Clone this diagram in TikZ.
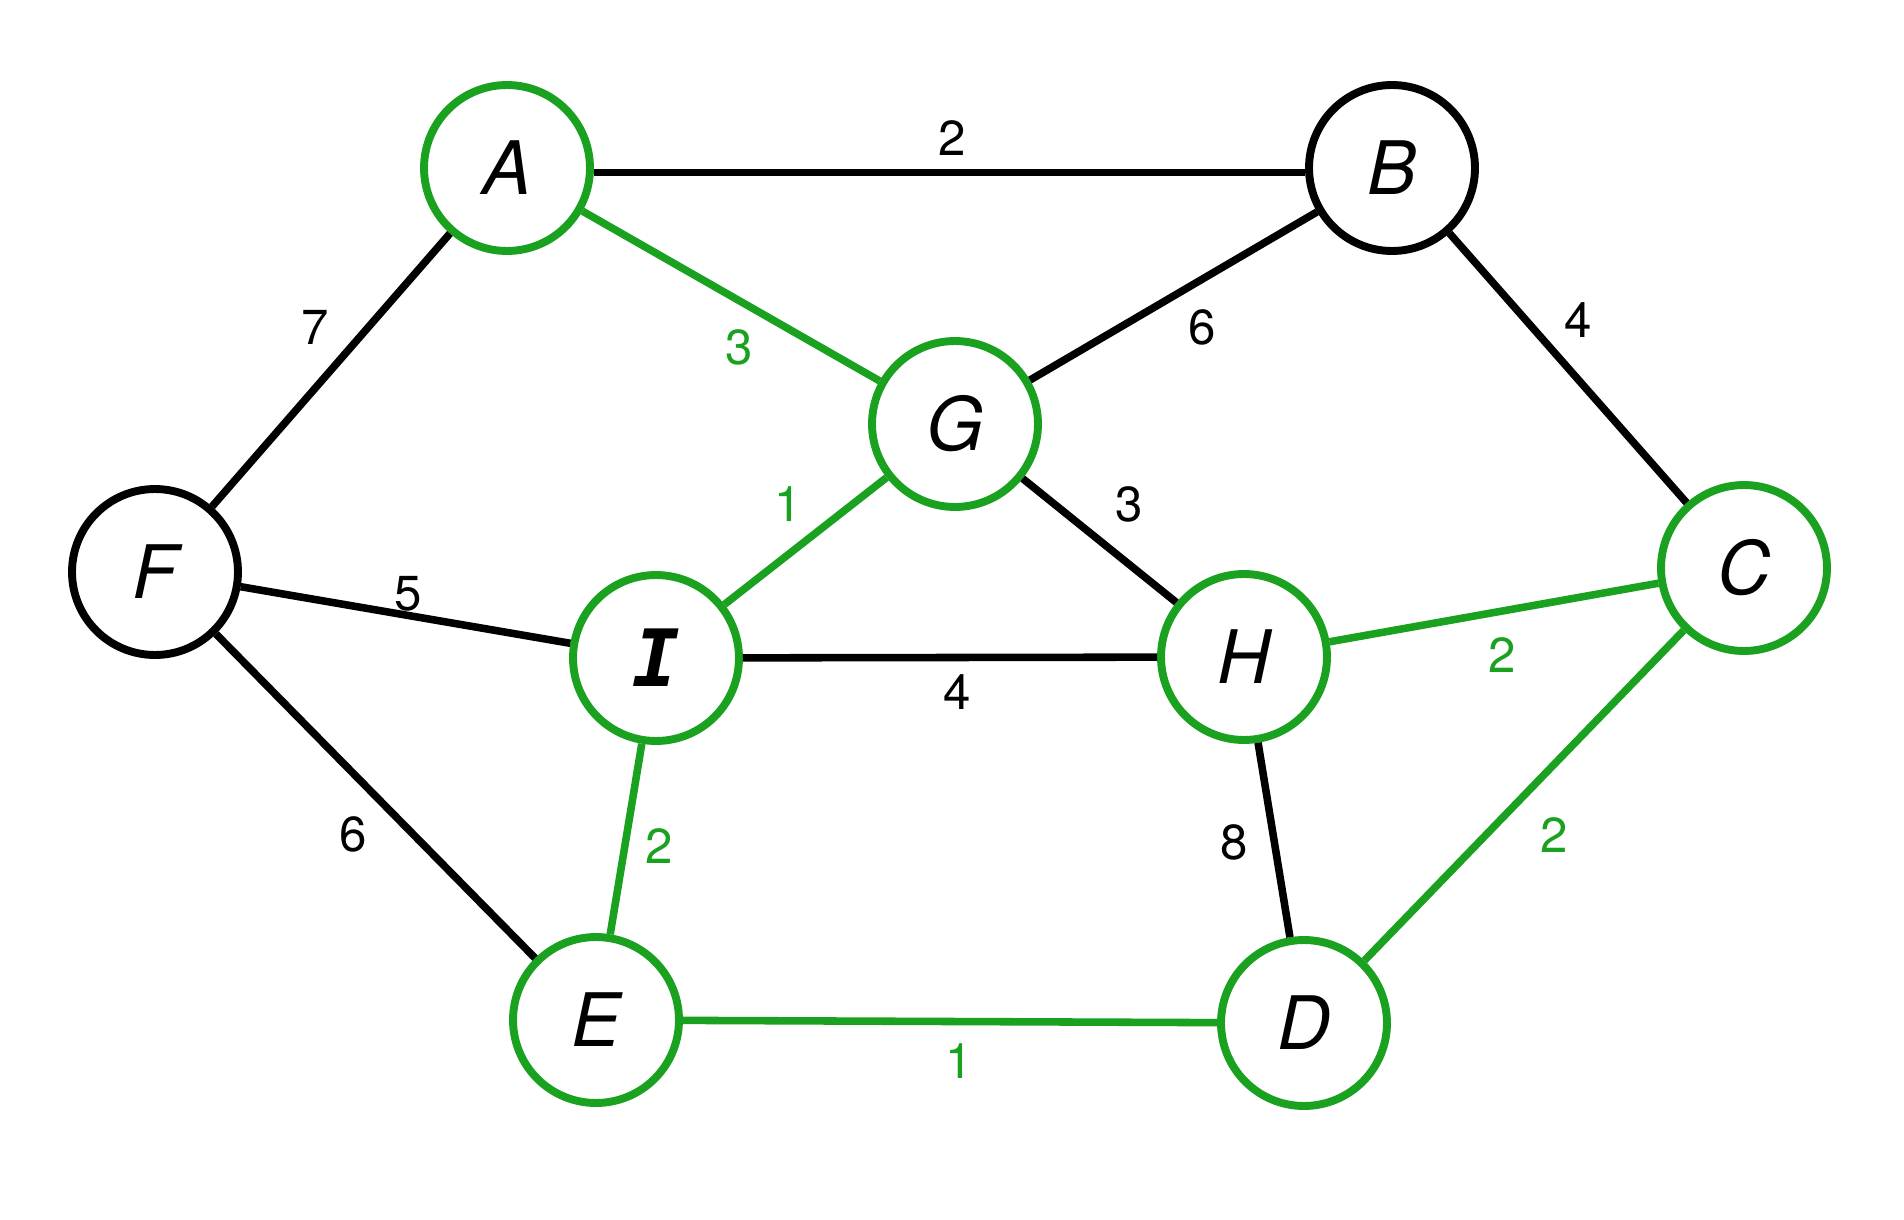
\documentclass[tikz,border=0pt]{standalone}
\usepackage{fontspec}
\setmainfont{TeX Gyre Heros}
\newfontfamily\ifont{DejaVu Sans Mono}
\definecolor{tgreen}{RGB}{25,161,31}
\tikzset{
  vtx/.style={circle, draw=black, line width=4.5pt, minimum size=3.32cm, inner sep=0pt, fill=white, font=\fontsize{42}{42}\selectfont\itshape},
  vsel/.style={vtx, draw=tgreen},
  edg/.style={line width=4.3pt, black},
  esel/.style={edg, tgreen},
  wlab/.style={font=\fontsize{28}{28}\selectfont, inner sep=0pt},
  wsel/.style={wlab, text=tgreen}
}
\begin{document}
\begin{tikzpicture}[x=0.02cm,y=-0.02cm]
\useasboundingbox (0,0) rectangle (1904,1220);
\node[vsel] (A) at (507,168) {A};
\node[vtx]  (B) at (1392,168) {B};
\node[vsel] (C) at (1744,568) {C};
\node[vsel] (D) at (1304,1023) {D};
\node[vsel] (E) at (596,1020) {E};
\node[vtx]  (F) at (155,572) {F};
\node[vsel] (G) at (955,424) {G};
\node[vsel] (H) at (1244,657) {H};
\node[vsel] (I) at (656,658) {\ifont\bfseries\itshape\fontsize{45}{45}\selectfont I};
\draw[edg] (A.-3.5) -- (B.183.5);
\draw[edg] (A) -- (F);
\draw[esel] (A) -- (G);
\draw[edg] (B) -- (G);
\draw[edg] (B) -- (C);
\draw[esel] (G) -- (I);
\draw[edg] (G) -- (H);
\draw[edg] (F) -- (I);
\draw[edg] (I) -- (H);
\draw[esel] (H) -- (C);
\draw[edg] (F) -- (E);
\draw[esel] (I) -- (E);
\draw[edg] (H) -- (D);
\draw[esel] (C) -- (D);
\draw[esel] (E) -- (D);
\node[wlab] (lAB) at (952,138) {2};
\node[wlab] (lAF) at (315,327) {7};
\node[wsel] (lAG) at (739,347) {3};
\node[wlab] (lBG) at (1202,327) {6};
\node[wlab] (lBC) at (1578,320) {4};
\node[wsel] (lGI) at (788,504) {1};
\node[wlab] (lGH) at (1129,504) {3};
\node[wlab] (lFI) at (408,594) {5};
\node[wlab] (lIH) at (957,692) {4};
\node[wsel] (lHC) at (1502,655) {2};
\node[wlab] (lFE) at (353,834) {6};
\node[wsel] (lIE) at (659,846) {2};
\node[wlab] (lHD) at (1234,842) {8};
\node[wsel] (lCD) at (1554,835) {2};
\node[wsel] (lED) at (959,1061) {1};
\end{tikzpicture}
\end{document}
